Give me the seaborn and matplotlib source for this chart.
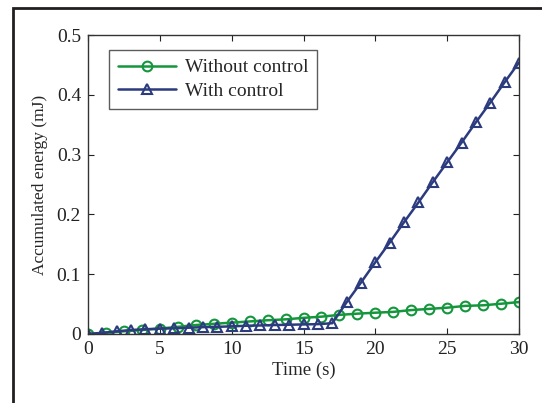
import matplotlib
matplotlib.use("Agg")
import matplotlib.pyplot as plt
import seaborn as sns
import pandas as pd
from matplotlib.patches import Rectangle

# Data
t_without = [0, 1.25, 2.5, 3.75, 5, 6.25, 7.5, 8.75, 10, 11.25, 12.5, 13.75, 15,
             16.25, 17.5, 18.75, 20, 21.25, 22.5, 23.75, 25, 26.25, 27.5, 28.75, 30]
e_without = [0, 0.002, 0.0045, 0.0067, 0.009, 0.012, 0.015, 0.017, 0.019, 0.021,
             0.023, 0.0245, 0.027, 0.029, 0.032, 0.034, 0.0356, 0.037, 0.040, 0.042,
             0.044, 0.047, 0.048, 0.0506, 0.0534]
t_with = list(range(0, 31))
e_with = [0, 0.002, 0.0045, 0.0067, 0.008, 0.009, 0.0095, 0.0105, 0.0115, 0.012,
          0.0128, 0.0138, 0.0143, 0.015, 0.0155, 0.016, 0.0165, 0.018, 0.053, 0.086,
          0.12, 0.153, 0.187, 0.22, 0.254, 0.287, 0.32, 0.354, 0.387, 0.421, 0.454]
x_ticks = [0, 5, 10, 15, 20, 25, 30]
y_ticks = [0, 0.1, 0.2, 0.3, 0.4, 0.5]
y_tick_labels = ["0", "0.1", "0.2", "0.3", "0.4", "0.5"]
labels = ["Without control", "With control"]

sns.set_theme(style="white")
plt.rcParams['font.family'] = ['Liberation Serif', 'DejaVu Serif']

df_a = pd.DataFrame({"t": t_without, "e": e_without})
df_b = pd.DataFrame({"t": t_with, "e": e_with})

green = "#15963d"
blue = "#2b3b7e"

fig = plt.figure(figsize=(5.42, 4.03), dpi=100)
ax = fig.add_axes([88/542, 1 - 334/403, (519-88)/542, (334-35)/403])

sns.lineplot(data=df_a, x="t", y="e", ax=ax, color=green, lw=1.8, marker="o",
             markersize=7, markerfacecolor="none", markeredgecolor=green,
             markeredgewidth=1.5, label=labels[0])
sns.lineplot(data=df_b, x="t", y="e", ax=ax, color=blue, lw=1.8, marker="^",
             markersize=7.5, markerfacecolor="none", markeredgecolor=blue,
             markeredgewidth=1.5, label=labels[1])

ax.set_xlim(0, 30)
ax.set_ylim(0, 0.5)
ax.set_xticks(x_ticks)
ax.set_yticks(y_ticks)
ax.set_yticklabels(y_tick_labels)
ax.tick_params(direction="in", length=4, width=0.8, top=True, right=True,
               bottom=True, left=True, labelsize=14, colors="#222222", pad=5)
for s in ax.spines.values():
    s.set_color("#333333")
    s.set_linewidth(1.0)
ax.set_xlabel("Time (s)", fontsize=13.5, labelpad=3)
ax.set_ylabel("Accumulated energy (mJ)", fontsize=12.5, labelpad=6)

leg = ax.legend(loc="upper left", bbox_to_anchor=(0.049, 0.95), borderaxespad=0,
                fontsize=14, frameon=True, fancybox=False, edgecolor="#333333",
                handlelength=3.0, borderpad=0.45, labelspacing=0.3,
                handletextpad=0.45)
leg.get_frame().set_linewidth(1.0)

# outer frame
fig.add_artist(Rectangle((13/542, -0.1), 1.2, 1 - 8/403 + 0.1,
                         transform=fig.transFigure, fill=False,
                         edgecolor="#231f20", lw=2.0))

fig.savefig("out.png", dpi=100)
